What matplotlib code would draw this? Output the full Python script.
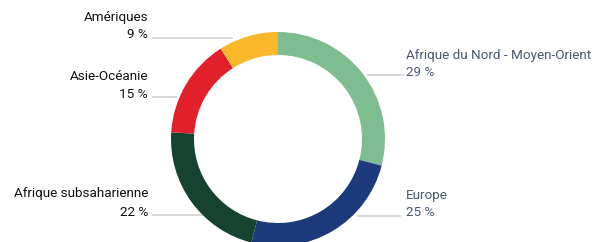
import matplotlib
matplotlib.use("Agg")
import matplotlib.pyplot as plt

regions = ["Afrique du Nord - Moyen-Orient", "Europe", "Afrique subsaharienne", "Asie-Océanie", "Amériques"]
shares = [29, 25, 22, 15, 9]
colors = ["#7dbd8f", "#1c3a7c", "#15432f", "#e2202a", "#fbb72a"]

W, H = 597, 242
fig = plt.figure(figsize=(W / 100, H / 100), dpi=100)
ax = fig.add_axes([0, 0, 1, 1])

cx, cy, R = 278, H - 139, 107
ax.pie(shares, colors=colors, startangle=90, counterclock=False,
       center=(cx, cy), radius=R, wedgeprops=dict(width=23, linewidth=0),
       frame=True)
ax.set_xlim(0, W)
ax.set_ylim(0, H)
ax.set_aspect("equal")
ax.axis("off")

plt.rcParams['font.family'] = ['Roboto', 'DejaVu Sans']
fs = 9.7
left_col = "#111111"
right_col = "#4a5870"
line_col = "#cfcfcf"

specs = {
    "Amériques": (148, 17, 35, 153, 232, 38, "left"),
    "Asie-Océanie": (148, 77, 95, 153, 176, 97, "left"),
    "Afrique subsaharienne": (148, 194, 212, 153, 222, 215, "left"),
    "Afrique du Nord - Moyen-Orient": (406, 56, 73, 368, 403, 75, "right"),
    "Europe": (406, 195, 213, 358, 400, 216, "right"),
}
for name, val in zip(regions, shares):
    tx, ny, py, lx0, lx1, ly, side = specs[name]
    ha = "right" if side == "left" else "left"
    col = left_col if side == "left" else right_col
    ax.text(tx, H - ny, name, ha=ha, va="center", fontsize=fs, color=col)
    ax.text(tx, H - py, f"{val} %", ha=ha, va="center", fontsize=fs, color=col)
    ax.plot([lx0, lx1], [H - ly, H - ly], color=line_col, lw=1.2, zorder=0)

fig.savefig("out.png", dpi=100)
